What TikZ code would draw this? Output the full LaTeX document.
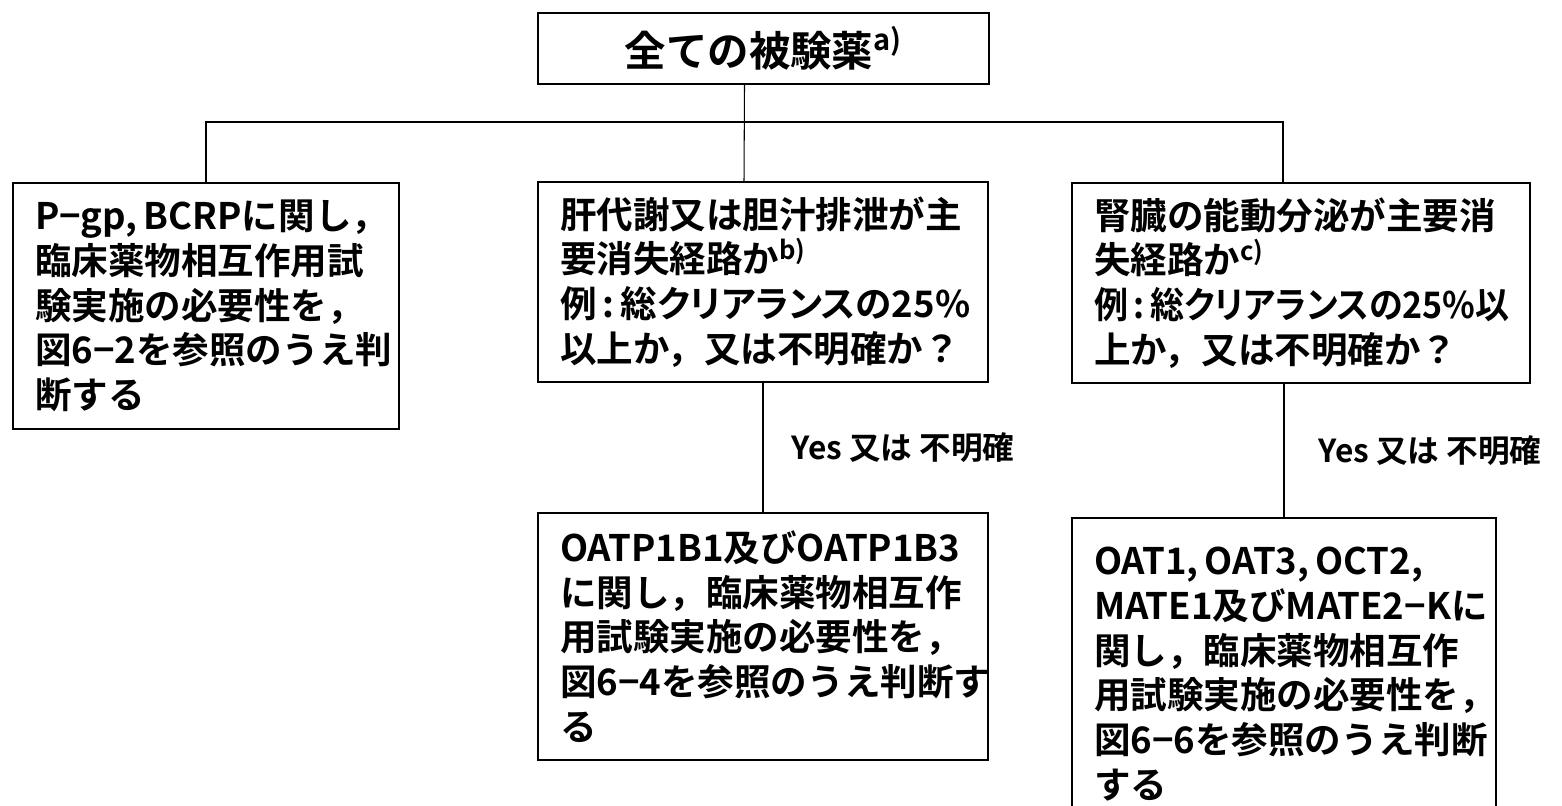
\documentclass[tikz,border=0pt]{standalone}
\usepackage{graphicx}
\usepackage{fontspec}
\setmainfont{Noto Sans CJK JP}[BoldFont={Noto Sans CJK JP Bold}]
\newfontfamily\propfont{Noto Sans CJK JP}[BoldFont={Noto Sans CJK JP Bold}, RawFeature=+palt]

\begin{document}
\begin{tikzpicture}[draw=black, line width=0.6pt]
        \tikzstyle{box}=[
            draw, rectangle, line width=1.1pt, inner xsep=0pt, inner ysep=0pt, align=left,
            font=\fontsize{20.8}{25.5}\selectfont\bfseries,
        ]
        \tikzstyle{start}=[box, align=center, font=\fontsize{23.6}{28}\selectfont\bfseries];
        \tikzstyle{question}=[box, minimum height=4cm];
        \tikzstyle{answer}=[box];
        \tikzstyle{annot}=[inner sep=0pt, font=\fontsize{18}{22}\selectfont\bfseries];

        \useasboundingbox (0,0) rectangle (31.24,-16.1);

        % Draw the start node
        \node[start, minimum width=9.02cm, minimum height=1.42cm] (All) at (15.27,-0.97)
            {全ての被験薬\textsuperscript{a)}};

        % Draw the first row of boxes
        \node[answer, minimum width=7.72cm, minimum height=4.92cm, text width=6.84cm] (Ans-1) at (4.12,-6.12)
            {\mbox{P−gp,\,BCRPに関し，}\\臨床薬物相互作用試\\験実施の必要性を，\\図6−2を参照のうえ判\\断する};
        \node[question, minimum width=9cm, text width=8.12cm] (Q-1) at (15.26,-5.64)
            {肝代謝又は胆汁排泄が主\\要消失経路か\textsuperscript{b)}\\\mbox{\propfont 例\,:\,総クリアランスの25\%}\\以上か，又は不明確か？};
        \node[question, minimum width=9.16cm, text width=8.28cm] (Q-2) at (26.02,-5.66)
            {腎臓の能動分泌が主要消\\失経路か\textsuperscript{c)}\\\scalebox{0.93}[1]{\propfont 例\,:\,総クリアランスの25\%以}\\上か，又は不明確か？};

        % Draw the second row of boxes
        \node[answer, minimum width=9cm, minimum height=4.94cm, text width=8.12cm] (Ans-2) at (15.26,-12.73)
            {OATP1B1及びOATP1B3\\に関し，臨床薬物相互作\\用試験実施の必要性を，\\図6−4を参照のうえ判断す\\る};
        \node[answer, minimum width=8.48cm, minimum height=6.24cm, text width=7.6cm] (Ans-3) at (25.68,-13.48)
            {\mbox{OAT1,\,OAT3,\,OCT2,}\\\mbox{MATE1及びMATE2−Kに}\\関し，臨床薬物相互作\\用試験実施の必要性を，\\図6−6を参照のうえ判断\\する};

        % Connect the start node with the first row
        \draw ([xshift=-0.38cm]All.south) -- ([xshift=-0.38cm]Q-1.north);
        \draw (Ans-1.north) -- (Ans-1.north |- 0,-2.44) -| ([xshift=-0.36cm]Q-2.north);

        % Connect the questions with the answers
        \draw (Q-1.south) -- (Ans-2.north)
            node[annot, midway, right=0.56cm] (Yes-1) {Yes 又は 不明確};
        \draw (Ans-3.north |- Q-2.south) -- (Ans-3.north)
            node[annot, midway, right=0.68cm] (Yes-2) {Yes 又は 不明確};
    \end{tikzpicture}
\end{document}
